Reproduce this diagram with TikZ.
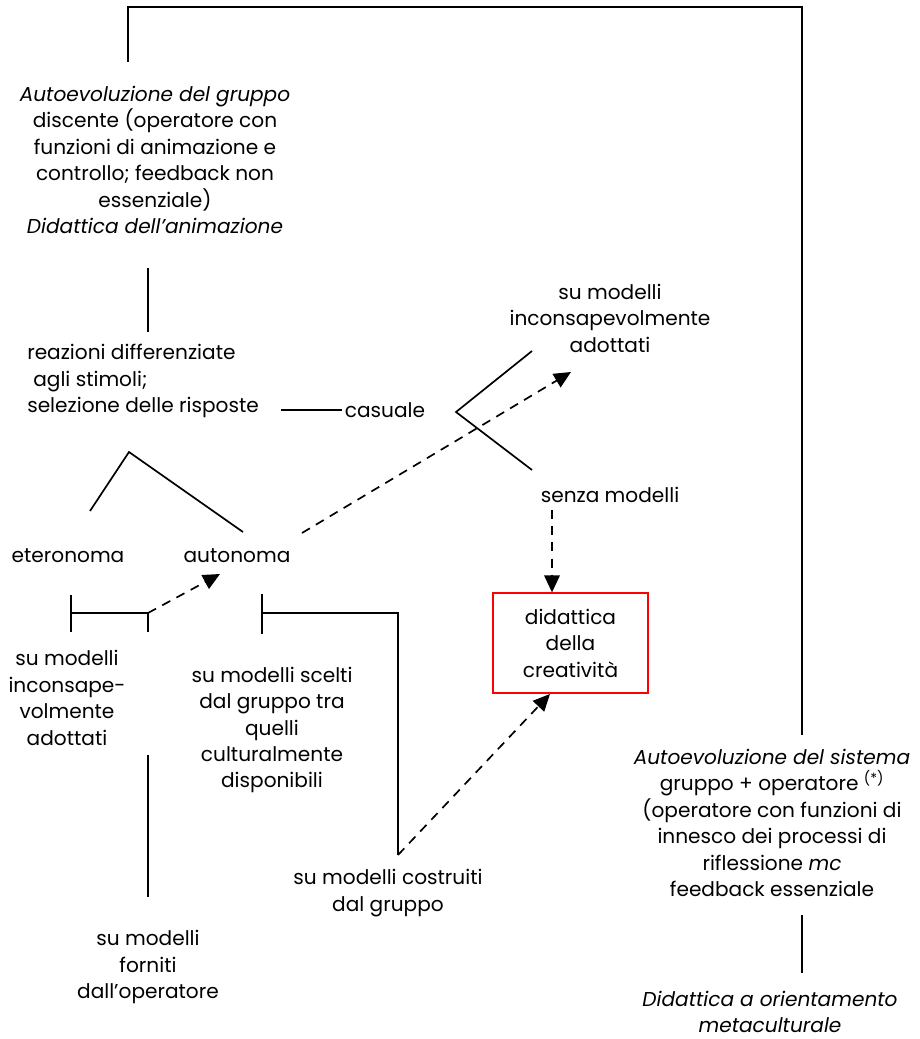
\documentclass[tikz,border=0pt]{standalone}
\usepackage{fontspec}
\setmainfont{Poppins}
\usetikzlibrary{arrows.meta}

\begin{document}
\begin{tikzpicture}[x=0.025cm, y=-0.025cm,
    lbl/.style={align=center, inner sep=0pt,
                font=\fontsize{14.3}{18.8}\selectfont},
    link/.style={line width=1.2pt},
    hint/.style={line width=1.2pt, dash pattern=on 6.5pt off 5pt,
                 -{Triangle[length=12pt, width=11pt]}},
    target/.style={lbl, draw=red, line width=0.9pt,
                   minimum width=3.875cm, minimum height=2.5cm},
]
\useasboundingbox (0,0) rectangle (920,1039);

% Nodes
\node[lbl] (grp) at (155,160) {\textit{Autoevoluzione del gruppo}\\
    discente (operatore con\\funzioni di animazione e\\
    controllo; feedback non\\essenziale)\\\textit{Didattica dell'animazione}};
\node[lbl, align=left, anchor=west] (rea) at (27,381)
    {reazioni differenziate\\\hspace{0.3em}agli stimoli;\\selezione delle risposte};
\node[lbl] (cas) at (385,410) {casuale};
\node[lbl] (inc) at (610,318) {su modelli\\inconsapevolmente\\adottati};
\node[lbl] (sen) at (610,495) {senza modelli};
\node[target] (cre) at (570.5,643) {didattica\\della\\creatività};
\node[lbl] (ete) at (68,556) {eteronoma};
\node[lbl] (aut) at (237,556) {autonoma};
\node[lbl] (inv) at (67,698) {su modelli\\inconsape-\\volmente\\adottati};
\node[lbl] (sce) at (272,730) {su modelli scelti\\dal gruppo tra\\quelli\\
    culturalmente\\disponibili};
\node[lbl] (for) at (148,967) {su modelli\\forniti\\dall'operatore};
\node[lbl] (cos) at (388,893) {su modelli costruiti\\dal gruppo};
\node[lbl] (sis) at (772,823) {\textit{Autoevoluzione del sistema}\\
    gruppo + operatore \textsuperscript{(*)}\\(operatore con funzioni di\\
    innesco dei processi di\\riflessione \textit{mc}\\feedback essenziale};
\node[lbl] (met) at (770,1012) {\textit{Didattica a orientamento}\\
    \textit{metaculturale}};

% Free ends of the connectors
\coordinate (topL) at (128,62);
\coordinate (ridge) at (465,7);
\coordinate (topR) at (802,735);
\coordinate (grpEnd) at (148,268);
\coordinate (reaEnd) at (148,332);
\coordinate (casL) at (281,410);
\coordinate (casR) at (342,410);
\coordinate (fork) at (456,412);
\coordinate (forkUp) at (532,351);
\coordinate (forkDn) at (532,470);
\coordinate (apex) at (129,452);
\coordinate (apexL) at (90,511);
\coordinate (apexR) at (243,532);
\coordinate (autOut) at (302,533);
\coordinate (incIn) at (571,372);
\coordinate (senOut) at (552,510);
\coordinate (heL) at (71,613);
\coordinate (heR) at (148,613);
\coordinate (invEnd) at (148,632);
\coordinate (autIn) at (220,574);
\coordinate (auL) at (262,613);
\coordinate (auR) at (398,613);
\coordinate (cosOut) at (398,855);
\coordinate (creIn) at (550,694);
\coordinate (forTop) at (148,755);
\coordinate (forBot) at (148,897);
\coordinate (sisBot) at (802,915);
\coordinate (metTop) at (802,973);

% Frame from the group to the system
\draw[link] (topL) |- (ridge) -| (topR);

% Plain links
\draw[link] (grpEnd) -- (reaEnd);
\draw[link] (casL) -- (casR);
\draw[link] (forkUp) -- (fork) -- (forkDn);
\draw[link] (apexL) -- (apex) -- (apexR);
\draw[link] (heL) ++(0,-18) -- ++(0,37);
\draw[link] (heL) -- (heR) -- (invEnd);
\draw[link] (auL) ++(0,-19) -- ++(0,40);
\draw[link] (auL) -- (auR) -- (cosOut);
\draw[link] (forTop) -- (forBot);
\draw[link] (sisBot) -- (metTop);

% Dashed arrows
\draw[hint] (autOut) -- (incIn);
\draw[hint] (senOut) -- (senOut |- cre.north);
\draw[hint] (heR) -- (autIn);
\draw[hint] (cosOut) -- (creIn);

\end{tikzpicture}
\end{document}
